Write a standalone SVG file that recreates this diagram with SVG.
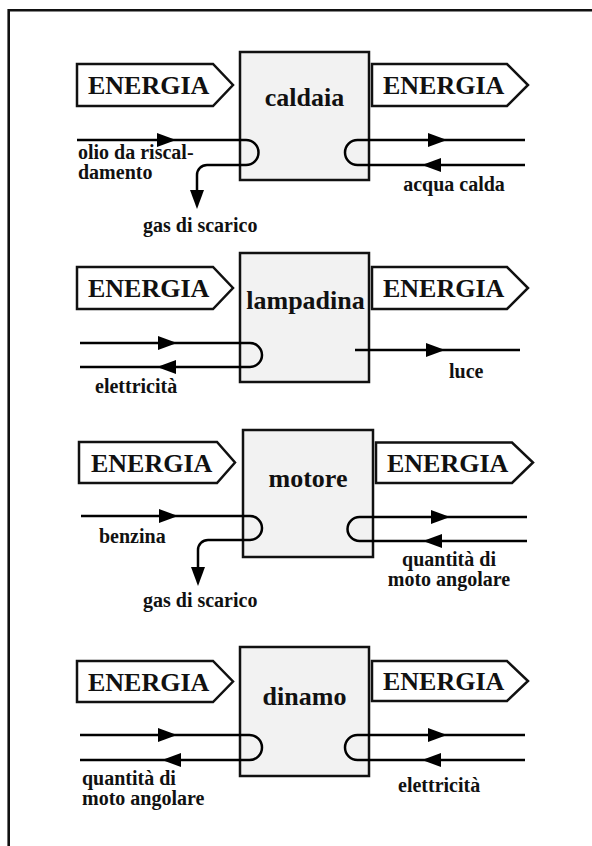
<svg xmlns="http://www.w3.org/2000/svg" xmlns:xlink="http://www.w3.org/1999/xlink" width="592" height="846" viewBox="0 0 592 846">
  <style>
    .frame { fill: none; stroke: #111; stroke-width: 2.6; }
    .box { fill: #f2f2f2; stroke: #111; stroke-width: 2.5; }
    .tag { fill: #fff; stroke: #111; stroke-width: 2.5; stroke-linejoin: miter; }
    .flow { fill: none; stroke: #000; stroke-width: 2.5; }
    .head { fill: #000; }
    text { font-family: "Liberation Serif", "Times New Roman", serif; font-weight: bold; fill: #111; }
    .big { font-size: 26px; }
    .name { font-size: 26px; text-anchor: middle; }
    .lbl { font-size: 20px; }
    .mid { text-anchor: middle; }
  </style>
  <defs>
    <!-- filled arrowhead, tip at the origin, pointing along +x -->
    <path id="ah" class="head" d="M0,0 L-19,-7 L-19,7 Z"/>
  </defs>

  <!-- page frame (open on right and bottom) -->
  <path class="frame" d="M8.7,846 V10.3 H592"/>

  <!-- ===== caldaia ===== -->
  <g id="caldaia">
    <rect class="box" x="240" y="52" width="129" height="128"/>
    <text class="name" x="304.5" y="106">caldaia</text>
  </g>
  <g id="caldaia-energia-in">
    <path class="tag" d="M77,64 H213 L233,85 L213,106 H77 Z"/>
    <text class="big" x="88" y="94">ENERGIA</text>
  </g>
  <g id="caldaia-energia-out">
    <path class="tag" d="M372,64 H507 L528,85 L507,106 H372 Z"/>
    <text class="big" x="383" y="94">ENERGIA</text>
  </g>

  <!-- ===== lampadina ===== -->
  <g id="lampadina">
    <rect class="box" x="240" y="253" width="129" height="129"/>
    <text class="name" x="305.5" y="309">lampadina</text>
  </g>
  <g id="lampadina-energia-in">
    <path class="tag" d="M77,267 H213 L233,288 L213,309 H77 Z"/>
    <text class="big" x="88" y="297">ENERGIA</text>
  </g>
  <g id="lampadina-energia-out">
    <path class="tag" d="M372,267 H507 L528,288 L507,309 H372 Z"/>
    <text class="big" x="383" y="297">ENERGIA</text>
  </g>

  <!-- ===== motore ===== -->
  <g id="motore">
    <rect class="box" x="243" y="430" width="130" height="127"/>
    <text class="name" x="308" y="487">motore</text>
  </g>
  <g id="motore-energia-in">
    <path class="tag" d="M79,442 H217 L235,462.5 L217,483 H79 Z"/>
    <text class="big" x="91" y="471.5">ENERGIA</text>
  </g>
  <g id="motore-energia-out">
    <path class="tag" d="M376,442.5 H512 L533,462.5 L512,483 H376 Z"/>
    <text class="big" x="387" y="471.5">ENERGIA</text>
  </g>

  <!-- ===== dinamo ===== -->
  <g id="dinamo">
    <rect class="box" x="240" y="647" width="129" height="129"/>
    <text class="name" x="304.5" y="705">dinamo</text>
  </g>
  <g id="dinamo-energia-in">
    <path class="tag" d="M77,661 H213 L233,681.5 L213,702 H77 Z"/>
    <text class="big" x="88" y="690.5">ENERGIA</text>
  </g>
  <g id="dinamo-energia-out">
    <path class="tag" d="M372,661 H507 L528,681 L507,701 H372 Z"/>
    <text class="big" x="383" y="690">ENERGIA</text>
  </g>

  <!-- ===== connectors ===== -->
  <g id="connectors">
    <!-- caldaia: oil in, exhaust out -->
    <path class="flow" d="M77,140 H246 A12.5,12.5 0 0 1 246,165 H207 A10,10 0 0 0 197,175 V192"/>
    <use xlink:href="#ah" transform="translate(176,140)"/>
    <use xlink:href="#ah" transform="translate(197,209) rotate(90)"/>
    <!-- caldaia: hot water loop -->
    <path class="flow" d="M525,140 H357.5 A12.5,12.5 0 0 0 357.5,165 H525"/>
    <use xlink:href="#ah" transform="translate(447,140)"/>
    <use xlink:href="#ah" transform="translate(422,165) rotate(180)"/>

    <!-- lampadina: electricity loop -->
    <path class="flow" d="M80,343 H250 A12,12 0 0 1 250,367 H80"/>
    <use xlink:href="#ah" transform="translate(177,343)"/>
    <use xlink:href="#ah" transform="translate(157,367) rotate(180)"/>
    <!-- lampadina: light out -->
    <path class="flow" d="M355,350 H520"/>
    <use xlink:href="#ah" transform="translate(445,350)"/>

    <!-- motore: fuel in, exhaust out -->
    <path class="flow" d="M81,516 H250 A12,12 0 0 1 250,540 H208 A10,10 0 0 0 198,550 V569"/>
    <use xlink:href="#ah" transform="translate(178,516)"/>
    <use xlink:href="#ah" transform="translate(198,586) rotate(90)"/>
    <!-- motore: angular momentum loop -->
    <path class="flow" d="M527,517 H359.5 A12,12 0 0 0 359.5,541 H527"/>
    <use xlink:href="#ah" transform="translate(450,517)"/>
    <use xlink:href="#ah" transform="translate(423,541) rotate(180)"/>

    <!-- dinamo: angular momentum loop -->
    <path class="flow" d="M80,735 H249.5 A12.5,12.5 0 0 1 249.5,760 H80"/>
    <use xlink:href="#ah" transform="translate(177,735)"/>
    <use xlink:href="#ah" transform="translate(162,760) rotate(180)"/>
    <!-- dinamo: electricity loop -->
    <path class="flow" d="M525,735 H357.5 A12.5,12.5 0 0 0 357.5,760 H525"/>
    <use xlink:href="#ah" transform="translate(447,735)"/>
    <use xlink:href="#ah" transform="translate(422,760) rotate(180)"/>
  </g>

  <!-- ===== flow labels ===== -->
  <g id="labels">
    <text class="lbl" x="78" y="159">olio da riscal-</text>
    <text class="lbl" x="78" y="179">damento</text>
    <text class="lbl" x="143" y="232">gas di scarico</text>
    <text class="lbl mid" x="454" y="191">acqua calda</text>

    <text class="lbl" x="95" y="393">elettricità</text>
    <text class="lbl" x="449" y="378">luce</text>

    <text class="lbl" x="99" y="543">benzina</text>
    <text class="lbl" x="143" y="607">gas di scarico</text>
    <text class="lbl mid" x="449" y="566">quantità di</text>
    <text class="lbl mid" x="449" y="586">moto angolare</text>

    <text class="lbl" x="82" y="785">quantità di</text>
    <text class="lbl" x="82" y="805">moto angolare</text>
    <text class="lbl" x="398" y="792">elettricità</text>
  </g>
</svg>
